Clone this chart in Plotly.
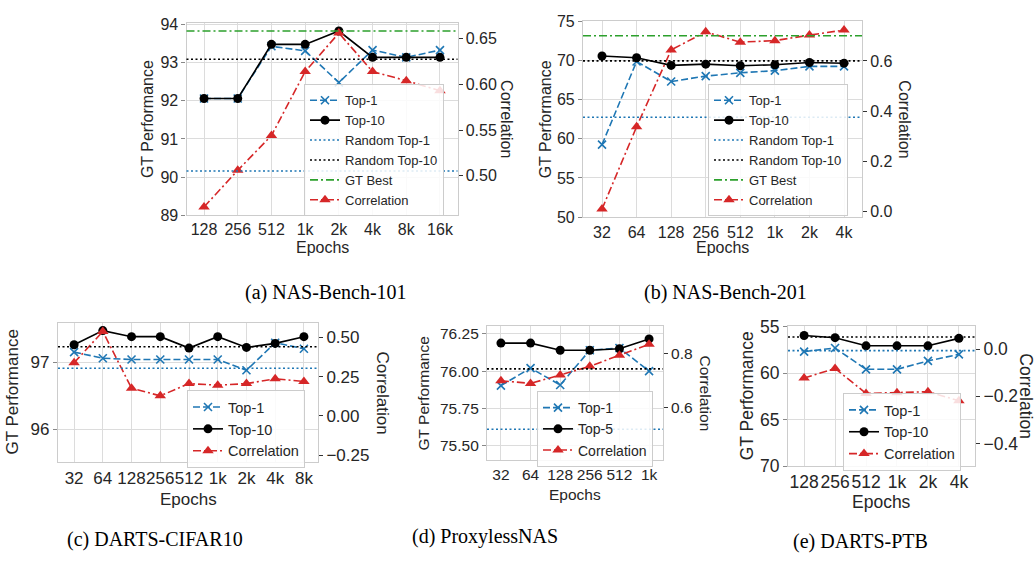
import plotly.graph_objects as go

# ---------------- data ----------------
a_epochs = ["128", "256", "512", "1k", "2k", "4k", "8k", "16k"]
a_top1 = [92.06, 92.06, 93.43, 93.31, 92.48, 93.33, 93.14, 93.33]
a_top10 = [92.06, 92.06, 93.48, 93.48, 93.83, 93.14, 93.14, 93.14]
a_corr = [0.466, 0.506, 0.544, 0.614, 0.656, 0.614, 0.604, 0.593]
a_rand_top1 = 90.16
a_rand_top10 = 93.09
a_gt_best = 93.83

b_epochs = ["32", "64", "128", "256", "512", "1k", "2k", "4k"]
b_top1 = [59.25, 69.86, 67.31, 68.00, 68.42, 68.70, 69.24, 69.24]
b_top10 = [70.56, 70.35, 69.37, 69.53, 69.33, 69.45, 69.74, 69.65]
b_corr = [0.010, 0.338, 0.644, 0.716, 0.675, 0.681, 0.703, 0.723]
b_rand_top1 = 62.75
b_rand_top10 = 69.94
b_gt_best = 73.15

c_epochs = ["32", "64", "128", "256", "512", "1k", "2k", "4k", "8k"]
c_top1 = [97.15, 97.06, 97.04, 97.04, 97.04, 97.04, 96.88, 97.29, 97.20]
c_top10 = [97.26, 97.47, 97.38, 97.38, 97.21, 97.38, 97.22, 97.28, 97.38]
c_corr = [0.338, 0.537, 0.176, 0.127, 0.205, 0.195, 0.205, 0.236, 0.219]
c_rand_top1 = 96.91
c_rand_top10 = 97.23

d_epochs = ["32", "64", "128", "256", "512", "1k"]
d_top1 = [75.903, 76.020, 75.907, 76.140, 76.155, 76.000]
d_top5 = [76.188, 76.188, 76.140, 76.140, 76.150, 76.216]
d_corr = [0.699, 0.689, 0.720, 0.752, 0.793, 0.833]
d_rand_top1 = 75.61
d_rand_top5 = 76.015

e_epochs = ["128", "256", "512", "1k", "2k", "4k"]
e_top1 = [57.70, 57.32, 59.60, 59.60, 58.70, 58.00]
e_top10 = [55.97, 56.21, 57.08, 57.08, 57.08, 56.28]
e_corr = [-0.123, -0.082, -0.188, -0.185, -0.181, -0.219]
e_rand_top1 = 57.60
e_rand_top10 = 56.14

captions = ["(a) NAS-Bench-101", "(b) NAS-Bench-201", "(c) DARTS-CIFAR10",
            "(d) ProxylessNAS", "(e) DARTS-PTB"]

# ---------------- style ----------------
W, H = 1035, 566
BLUE = "#1f77b4"
RED = "#d62728"
GREEN = "#2ca02c"
BLACK = "#000000"
GRID = "#dcdcdc"
FRAME = "#cccccc"
TXT = "#262626"
SANS = "Liberation Sans, Arial, sans-serif"
SERIF = "Liberation Serif, Times New Roman, serif"

DASH = "7px,3px"
DOT = "2px,2.5px"
DASHDOT = "8px,3px,2px,3px"


def fx(p):
    return p / W


def fy(p):
    return 1 - p / H


panels = [
    dict(epochs=a_epochs, top1=a_top1, topk=a_top10, topk_name="Top-10", corr=a_corr,
         hlines=[("Random Top-1", a_rand_top1, BLUE, DOT),
                 ("Random Top-10", a_rand_top10, BLACK, DOT),
                 ("GT Best", a_gt_best, GREEN, DASHDOT)],
         hl_legend=True,
         box=(186.5, 457.5, 13.5, 212.7), pad=(0.52, 0.52),
         yl=[89, 94.04], yl_dtick=1, yl_fmt="d",
         yr=[0.457, 0.667], yr_dtick=0.05, yr_fmt=".2f",
         font=16, legfont=13, leg=(304, 77),
         gtx=147, corrx=507, epy=246, cap=(326, 293)),
    dict(epochs=b_epochs, top1=b_top1, topk=b_top10, topk_name="Top-10", corr=b_corr,
         hlines=[("Random Top-1", b_rand_top1, BLUE, DOT),
                 ("Random Top-10", b_rand_top10, BLACK, DOT),
                 ("GT Best", b_gt_best, GREEN, DASHDOT)],
         hl_legend=True,
         box=(583, 862, 11.7, 215), pad=(0.55, 0.52),
         yl=[49.96, 75], yl_dtick=5, yl_fmt="d",
         yr=[-0.023, 0.758], yr_dtick=0.2, yr_fmt=".1f",
         font=16, legfont=13, leg=(708, 77),
         gtx=545, corrx=905, epy=246, cap=(725, 293)),
    dict(epochs=c_epochs, top1=c_top1, topk=c_top10, topk_name="Top-10", corr=c_corr,
         hlines=[("Random Top-1", c_rand_top1, BLUE, DOT),
                 ("Random Top-10", c_rand_top10, BLACK, DOT)],
         hl_legend=False,
         box=(58, 318, 324, 469), pad=(0.56, 0.49),
         yl=[95.51, 97.59], yl_dtick=1, yl_fmt="d",
         yr=[-0.297, 0.594], yr_dtick=0.25, yr_fmt=".2f",
         font=17, legfont=14.5, leg=(187, 394),
         gtx=12, corrx=383, epy=507, cap=(155, 549)),
    dict(epochs=d_epochs, top1=d_top1, topk=d_top5, topk_name="Top-5", corr=d_corr,
         hlines=[("Random Top-1", d_rand_top1, BLUE, DOT),
                 ("Random Top-5", d_rand_top5, BLACK, DOT)],
         hl_legend=False,
         box=(487, 663, 328, 467), pad=(0.47, 0.47),
         yl=[75.40, 76.30], yl_dtick=0.25, yl_fmt=".2f",
         yr=[0.405, 0.899], yr_dtick=0.2, yr_fmt=".1f",
         font=15.5, legfont=14, leg=(537, 395),
         gtx=423, corrx=706, epy=502, cap=(485, 546)),
    dict(epochs=e_epochs, top1=e_top1, topk=e_top10, topk_name="Top-10", corr=e_corr,
         hlines=[("Random Top-1", e_rand_top1, BLUE, DOT),
                 ("Random Top-10", e_rand_top10, BLACK, DOT)],
         hl_legend=False,
         box=(788, 975, 328, 473), pad=(0.52, 0.52),
         yl=[70, 55], yl_dtick=5, yl_fmt="d",
         yr=[-0.497, 0.096], yr_dtick=0.2, yr_fmt=".1f",
         font=17.5, legfont=14.5, leg=(843, 397),
         gtx=747, corrx=1026, epy=510, cap=(860, 551)),
]

fig = go.Figure()
layout = dict(width=W, height=H, autosize=False,
              margin=dict(l=0, r=0, t=0, b=0),
              paper_bgcolor="white", plot_bgcolor="white",
              font=dict(family=SANS, color=TXT),
              showlegend=True)
annotations = []
shapes = []

for i, p in enumerate(panels):
    n = i + 1
    xid = "x" if n == 1 else f"x{n}"
    ylid = "y" if n == 1 else f"y{2 * n - 1}"
    yrid = f"y{2 * n}"
    xkey = "xaxis" if n == 1 else f"xaxis{n}"
    ylkey = "yaxis" if n == 1 else f"yaxis{2 * n - 1}"
    yrkey = f"yaxis{2 * n}"
    legkey = "legend" if n == 1 else f"legend{n}"
    x0, x1, yt, yb = p["box"]
    nc = len(p["epochs"])

    layout[xkey] = dict(domain=[fx(x0), fx(x1)], anchor=ylid, type="category",
                        categoryorder="array", categoryarray=p["epochs"],
                        range=[-p["pad"][0], nc - 1 + p["pad"][1]],
                        showgrid=True, gridcolor=GRID, gridwidth=1,
                        showline=True, linecolor=FRAME, linewidth=1.2, mirror=True,
                        ticks="", tickangle=0,
                        tickfont=dict(size=p["font"], family=SANS, color=TXT),
                        zeroline=False, fixedrange=True)
    layout[ylkey] = dict(domain=[fy(yb), fy(yt)], anchor=xid,
                         range=p["yl"], dtick=p["yl_dtick"], tick0=0,
                         tickformat=p["yl_fmt"],
                         showgrid=True, gridcolor=GRID, gridwidth=1,
                         showline=True, linecolor=FRAME, linewidth=1.2, mirror=True,
                         ticks="outside", ticklen=4, tickcolor="#888888", tickwidth=1,
                         tickfont=dict(size=p["font"], family=SANS, color=TXT),
                         zeroline=False, fixedrange=True)
    layout[yrkey] = dict(overlaying=ylid, anchor=xid, side="right",
                         range=p["yr"], dtick=p["yr_dtick"], tick0=0,
                         tickformat=p["yr_fmt"],
                         showgrid=False, showline=False, zeroline=False,
                         ticks="outside", ticklen=4, tickcolor="#333333", tickwidth=1,
                         tickfont=dict(size=p["font"], family=SANS, color=TXT),
                         fixedrange=True)
    layout[legkey] = dict(x=fx(p["leg"][0]), y=fy(p["leg"][1]), xanchor="left", yanchor="top",
                          xref="paper", yref="paper",
                          bgcolor="rgba(255,255,255,0.85)", bordercolor="#cccccc", borderwidth=1,
                          font=dict(size=p["legfont"], family=SANS, color=TXT),
                          tracegroupgap=0, itemwidth=30)

    # Top-1
    fig.add_trace(go.Scatter(x=p["epochs"], y=p["top1"], name="Top-1", mode="lines+markers",
                             line=dict(color=BLUE, width=1.6, dash=DASH),
                             marker=dict(symbol="x-thin-open", size=8, color=BLUE,
                                         line=dict(color=BLUE, width=1.6)),
                             xaxis=xid, yaxis=ylid, legend=legkey))
    # Top-k
    fig.add_trace(go.Scatter(x=p["epochs"], y=p["topk"], name=p["topk_name"], mode="lines+markers",
                             line=dict(color=BLACK, width=1.6),
                             marker=dict(symbol="circle", size=9, color=BLACK),
                             xaxis=xid, yaxis=ylid, legend=legkey))
    # horizontal reference lines
    for name, val, col, dash in p["hlines"]:
        shapes.append(dict(type="line", xref=f"{xid} domain", yref=ylid,
                           x0=0, x1=1, y0=val, y1=val, layer="above",
                           line=dict(color=col, width=1.6, dash=dash)))
        if p["hl_legend"]:
            fig.add_trace(go.Scatter(x=[None], y=[None], name=name, mode="lines",
                                     line=dict(color=col, width=1.6, dash=dash),
                                     xaxis=xid, yaxis=ylid, legend=legkey))
    # Correlation
    fig.add_trace(go.Scatter(x=p["epochs"], y=p["corr"], name="Correlation", mode="lines+markers",
                             line=dict(color=RED, width=1.6, dash=DASHDOT),
                             marker=dict(symbol="triangle-up", size=10, color=RED),
                             xaxis=xid, yaxis=yrid, legend=legkey))

    ymid = (yt + yb) / 2
    annotations.append(dict(text="GT Performance", x=fx(p["gtx"]), y=fy(ymid), xref="paper", yref="paper",
                            xanchor="center", yanchor="middle", textangle=-90, showarrow=False,
                            font=dict(size=p["font"], family=SANS, color=TXT)))
    annotations.append(dict(text="Correlation", x=fx(p["corrx"]), y=fy(ymid), xref="paper", yref="paper",
                            xanchor="center", yanchor="middle", textangle=90, showarrow=False,
                            font=dict(size=p["font"], family=SANS, color=TXT)))
    annotations.append(dict(text="Epochs", x=fx((x0 + x1) / 2), y=fy(p["epy"]), xref="paper", yref="paper",
                            xanchor="center", yanchor="middle", showarrow=False,
                            font=dict(size=p["font"], family=SANS, color=TXT)))
    annotations.append(dict(text=captions[i], x=fx(p["cap"][0]), y=fy(p["cap"][1]), xref="paper", yref="paper",
                            xanchor="center", yanchor="middle", showarrow=False,
                            font=dict(size=20, family=SERIF, color="#000000")))

layout["annotations"] = annotations
layout["shapes"] = shapes
fig.update_layout(**layout)

fig.write_html("out.html", config={"displayModeBar": False},
               post_script="document.body.style.margin='0';")
